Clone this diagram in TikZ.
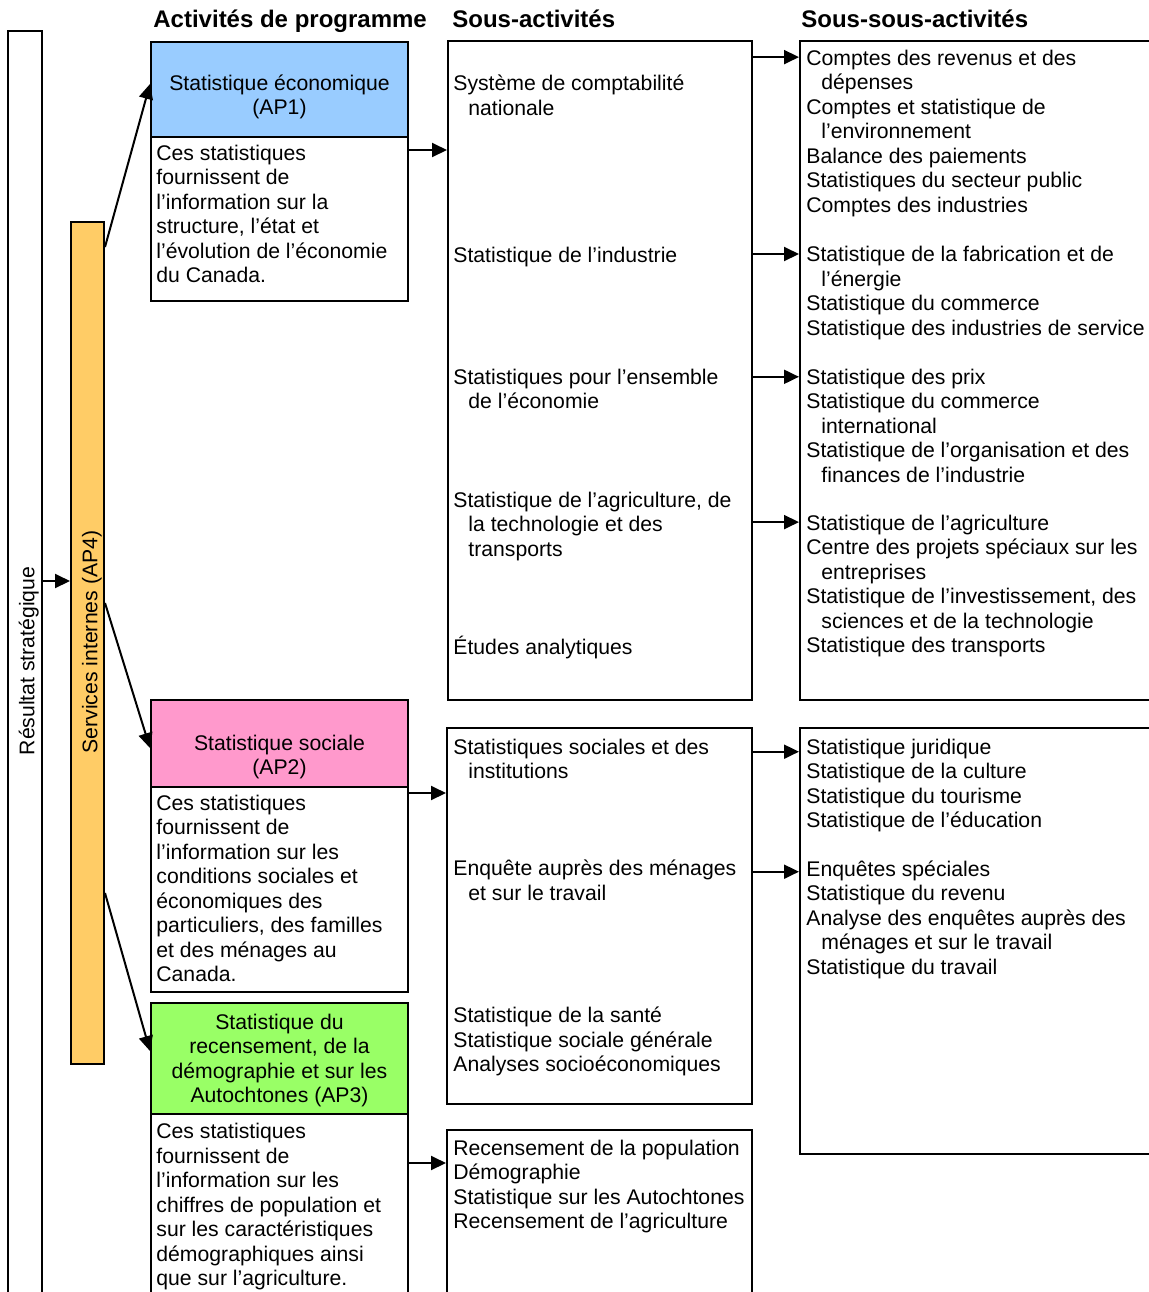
\documentclass[tikz,border=0pt]{standalone}
\usepackage{fontspec}
\setmainfont{Liberation Sans}
\usepackage{xcolor}
\usepackage{tikz}
\usetikzlibrary{arrows.meta, positioning, fit, calc}

\definecolor{apblue}{RGB}{153,204,255}
\definecolor{appink}{RGB}{255,153,204}
\definecolor{apgreen}{RGB}{153,255,102}
\definecolor{aporange}{RGB}{255,204,102}
\newcommand{\ind}{\hspace*{7.5pt}}

\begin{document}
\begin{tikzpicture}[
    x=0.5pt, y=-0.5pt,
    frame/.style={draw, line width=1pt, inner sep=0pt},
    txt/.style={inner sep=0pt, align=left, anchor=north west, font=\fontsize{10.6}{12.25}\selectfont,
        execute at begin node=\rule{0pt}{10pt}},
    hdr/.style={inner sep=0pt, align=center, anchor=north, font=\fontsize{10.6}{12.25}\selectfont,
        execute at begin node=\rule{0pt}{10pt}},
    vtxt/.style={inner sep=0pt, anchor=mid, rotate=90, font=\fontsize{10.6}{12.25}\selectfont},
    coltitle/.style={inner sep=0pt, anchor=mid west, font=\fontsize{12}{14}\selectfont\bfseries},
    arr/.style={-{Triangle[length=7.5pt, width=7pt]}, line width=1pt}
]
    \useasboundingbox (0,0) rectangle (1148,1292);

    % COLUMN TITLES
    \node (TitleAP) [coltitle] at (153,22) {Activités de programme};
    \node (TitleSub) [coltitle] at (452,22) {Sous-activités};
    \node (TitleSubSub) [coltitle] at (801,22) {Sous-sous-activités};

    % LEFT: OUTCOME AND INTERNAL SERVICES
    \node (Resultat) [frame, fit={(8,31) (42,1300)}] {};
    \node (ResultatTxt) [vtxt] at (29,661) {Résultat stratégique};
    \node (Services) [frame, fill=aporange, fit={(71,222) (104,1064)}] {};
    \node (ServicesTxt) [vtxt] at (92,642) {Services internes (AP4)};
    \draw[arr] (Resultat.east |- 0,581) -- (Services.west |- 0,581);

    % PROGRAM ACTIVITIES
    \node (Econ) [frame, fill=apblue, fit={(151,42) (408,137)}] {};
    \node (EconTxt) [hdr] at (279.5,74.1) {Statistique économique\\(AP1)};
    \node (EconDesc) [frame, fit={(151,137) (408,301)}] {};
    \node (EconDescTxt) [txt] at (156,144.6) {Ces statistiques\\fournissent de\\l’information sur la\\structure, l’état et\\l’évolution de l’économie\\du Canada.};

    \node (Social) [frame, fill=appink, fit={(151,700) (408,787)}] {};
    \node (SocialTxt) [hdr] at (279.5,734.6) {Statistique sociale\\(AP2)};
    \node (SocialDesc) [frame, fit={(151,787) (408,992)}] {};
    \node (SocialDescTxt) [txt] at (156,794.6) {Ces statistiques\\fournissent de\\l’information sur les\\conditions sociales et\\économiques des\\particuliers, des familles\\et des ménages au\\Canada.};

    \node (Census) [frame, fill=apgreen, fit={(151,1003) (408,1114)}] {};
    \node (CensusTxt) [hdr] at (279.5,1013.6) {Statistique du\\recensement, de la\\démographie et sur les\\Autochtones (AP3)};
    \node (CensusDesc) [frame, fit={(151,1114) (408,1300)}] {};
    \node (CensusDescTxt) [txt] at (156,1123) {Ces statistiques\\fournissent de\\l’information sur les\\chiffres de population et\\sur les caractéristiques\\démographiques ainsi\\que sur l’agriculture.};

    \draw[arr] (Services.east |- 0,247) -- (Econ.west |- 0,84);
    \draw[arr] (Services.east |- 0,603) -- (Social.west |- 0,748);
    \draw[arr] (Services.east |- 0,893) -- (Census.west |- 0,1051);

    % MIDDLE: SUB-ACTIVITIES
    \node (Sub1) [frame, fit={(448,41) (752,700)}] {};
    \node (SubNat) [txt] at (453,74.6) {Système de comptabilité\\\ind nationale};
    \node (SubInd) [txt] at (453,241.6) {Statistique de l’industrie};
    \node (SubEns) [txt] at (453,368.6) {Statistiques pour l’ensemble\\\ind de l’économie};
    \node (SubAgri) [txt] at (453,491.6) {Statistique de l’agriculture, de\\\ind la technologie et des\\\ind transports};
    \node (SubEtu) [txt] at (453,634.3) {Études analytiques};

    \node (Sub2) [frame, fit={(447,728) (752,1104)}] {};
    \node (SubSoc) [txt] at (453,738.3) {Statistiques sociales et des\\\ind institutions};
    \node (SubMen) [txt] at (453,859.6) {Enquête auprès des ménages\\\ind et sur le travail};
    \node (SubSan) [txt] at (453,1006.6) {Statistique de la santé\\Statistique sociale générale\\Analyses socioéconomiques};

    \node (Sub3) [frame, fit={(447,1130) (752,1300)}] {};
    \node (SubRec) [txt] at (453,1139.6) {Recensement de la population\\Démographie\\Statistique sur les Autochtones\\Recensement de l’agriculture};

    \draw[arr] (EconDesc.east |- 0,150) -- (Sub1.west |- 0,150);
    \draw[arr] (SocialDesc.east |- 0,793) -- (Sub2.west |- 0,793);
    \draw[arr] (CensusDesc.east |- 0,1163) -- (Sub3.west |- 0,1163);

    % RIGHT: SUB-SUB-ACTIVITIES
    \node (SubSub1) [frame, fit={(800,41) (1160,700)}] {};
    \node (SsNat) [txt] at (806,49.6) {Comptes des revenus et des\\\ind dépenses\\Comptes et statistique de\\\ind l’environnement\\Balance des paiements\\Statistiques du secteur public\\Comptes des industries};
    \node (SsInd) [txt] at (806,246) {Statistique de la fabrication et de\\\ind l’énergie\\Statistique du commerce\\Statistique des industries de service};
    \node (SsEns) [txt] at (806,368.3) {Statistique des prix\\Statistique du commerce\\\ind international\\Statistique de l’organisation et des\\\ind finances de l’industrie};
    \node (SsAgri) [txt] at (806,514.6) {Statistique de l’agriculture\\Centre des projets spéciaux sur les\\\ind entreprises\\Statistique de l’investissement, des\\\ind sciences et de la technologie\\Statistique des transports};

    \node (SubSub2) [frame, fit={(800,728) (1160,1154)}] {};
    \node (SsSoc) [txt] at (806,738.3) {Statistique juridique\\Statistique de la culture\\Statistique du tourisme\\Statistique de l’éducation};
    \node (SsMen) [txt] at (806,860) {Enquêtes spéciales\\Statistique du revenu\\Analyse des enquêtes auprès des\\\ind ménages et sur le travail\\Statistique du travail};

    \draw[arr] ($(Sub1.east |- SsNat.north)+(0,7.5)$) -- ($(SubSub1.west |- SsNat.north)+(0,7.5)$);
    \draw[arr] ($(Sub1.east |- SsInd.north)+(0,8)$) -- ($(SubSub1.west |- SsInd.north)+(0,8)$);
    \draw[arr] ($(Sub1.east |- SsEns.north)+(0,8.5)$) -- ($(SubSub1.west |- SsEns.north)+(0,8.5)$);
    \draw[arr] ($(Sub1.east |- SsAgri.north)+(0,7.5)$) -- ($(SubSub1.west |- SsAgri.north)+(0,7.5)$);
    \draw[arr] ($(Sub2.east |- SsSoc.north)+(0,13.4)$) -- ($(SubSub2.west |- SsSoc.north)+(0,13.4)$);
    \draw[arr] ($(Sub2.east |- SsMen.north)+(0,11.7)$) -- ($(SubSub2.west |- SsMen.north)+(0,11.7)$);
\end{tikzpicture}
\end{document}
